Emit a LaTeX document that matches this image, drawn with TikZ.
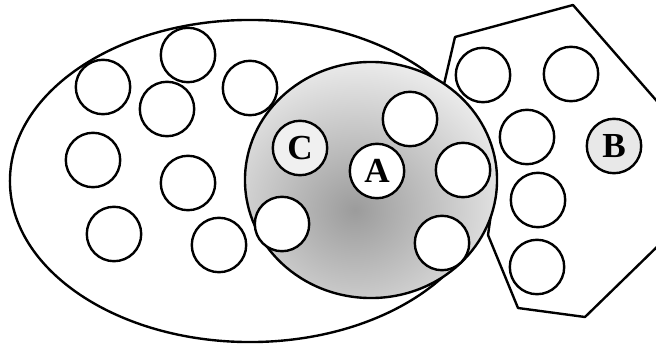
\documentclass[tikz,border=0pt]{standalone}
\usepackage{fontspec}
\setmainfont{Liberation Serif}

\begin{document}
\begin{tikzpicture}[
            x=0.025cm, y=-0.025cm,
            font=\fontsize{25}{25}\selectfont\bfseries,
            region/.style={line width=1.7pt, line join=round},
            cell/.style={circle, draw, line width=1.7pt, fill=white, minimum size=1.36cm, inner sep=0pt},
            marked/.style={cell, fill=gray!18}
        ]
        \useasboundingbox (0,0) rectangle (656,347);

        % Insiemi
        \draw [region] (250,181) ellipse [x radius=6cm, y radius=4.025cm];
        \draw [region, fill=white] (455,37) -- (573,5) -- (662,107) -- (662,242) -- (585,317) -- (518,308) -- (488,235) -- (493,200) -- (438,110) -- cycle;

        % Insieme sfumato
        \begin{scope}
            \clip (371,180) ellipse [x radius=3.15cm, y radius=2.95cm];
            \fill [gray!8] (0,0) rectangle (656,347);
            \shade [inner color=gray!78, outer color=gray!8] (355,210) ellipse [x radius=4.6cm, y radius=4.2cm];
        \end{scope}
        \draw [region] (371,180) ellipse [x radius=3.15cm, y radius=2.95cm];

        % Elementi (SX)
        \node (l1) [cell] at (103,87) {};
        \node (l2) [cell] at (188,55) {};
        \node (l3) [cell] at (167,109) {};
        \node (l4) [cell] at (250,88) {};
        \node (l5) [cell] at (93,160) {};
        \node (l6) [cell] at (188,183) {};
        \node (l7) [cell] at (114,234) {};
        \node (l8) [cell] at (219,245) {};

        % Elementi (centro)
        \node (s1) [cell] at (410,119) {};
        \node (s2) [cell] at (463,170) {};
        \node (s3) [cell] at (442,243) {};
        \node (s4) [cell] at (282,224) {};
        \node (c) [marked, fill=gray!12] at (300,148) {C};
        \node (a) [cell] at (377,171) {A};

        % Elementi (DX)
        \node (p1) [cell] at (483,75) {};
        \node (p2) [cell] at (571,74) {};
        \node (p3) [cell] at (527,137) {};
        \node (p4) [cell] at (538,200) {};
        \node (p5) [cell] at (537,267) {};
        \node (b) [marked] at (614,146) {B};

    \end{tikzpicture}
\end{document}
